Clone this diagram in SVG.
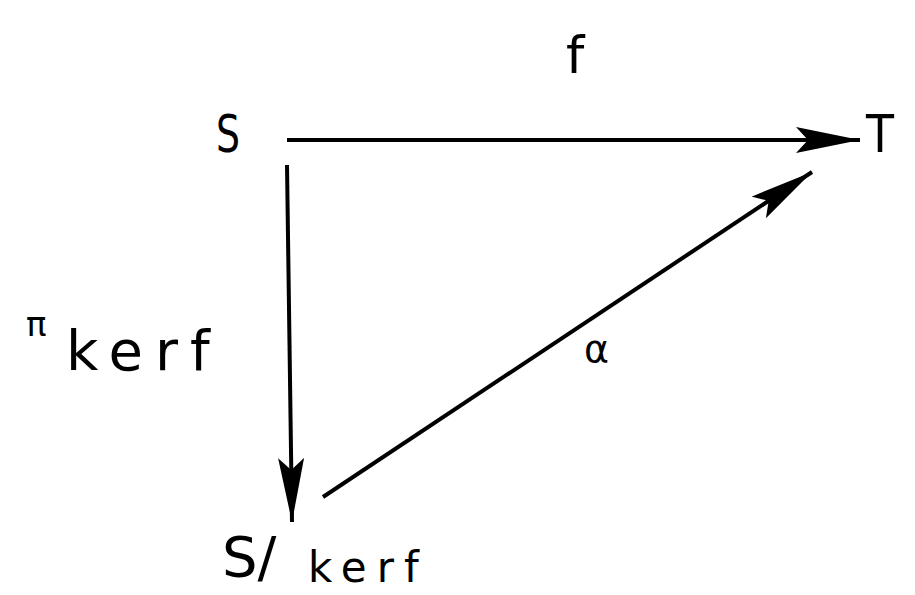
<svg xmlns="http://www.w3.org/2000/svg" width="915" height="595" viewBox="0 0 915 595">
<defs>
<style>
text{font-family:"DejaVu Sans","Liberation Sans",sans-serif;fill:#000}
.lbl{font-size:52px}
.ln{stroke:#000;stroke-width:4;fill:none}
</style>
<marker id="ahb" viewBox="0 0 64 26" refX="64" refY="13" markerWidth="64" markerHeight="26" markerUnits="userSpaceOnUse" orient="auto">
<path d="M0,0 L64,13 L0,26 L12,13 Z" fill="#000"/>
</marker>
</defs>
<rect width="915" height="595" fill="#fff"/>
<g id="edges">
<line class="ln" x1="287" y1="140" x2="860" y2="140" marker-end="url(#ahb)"/>
<line class="ln" x1="287" y1="165" x2="292" y2="522" marker-end="url(#ahb)"/>
<line class="ln" x1="323" y1="497" x2="812" y2="172" marker-end="url(#ahb)"/>
<text x="566" y="73" class="lbl">f</text>
<text x="26" y="336" style="font-size:34px">π</text>
<text x="66" y="370" style="font-size:56px;letter-spacing:12px">kerf</text>
<text x="584" y="362" style="font-size:38px">α</text>
</g>
<g id="S"><text x="216" y="152" class="lbl" textLength="24" lengthAdjust="spacingAndGlyphs">S</text></g>
<g id="T"><text x="866" y="152" class="lbl" textLength="28" lengthAdjust="spacingAndGlyphs">T</text></g>
<g id="Skerf"><text x="222" y="576" style="font-size:56px">S/</text><text x="308" y="582" style="font-size:42px;letter-spacing:10px">kerf</text></g>
</svg>
